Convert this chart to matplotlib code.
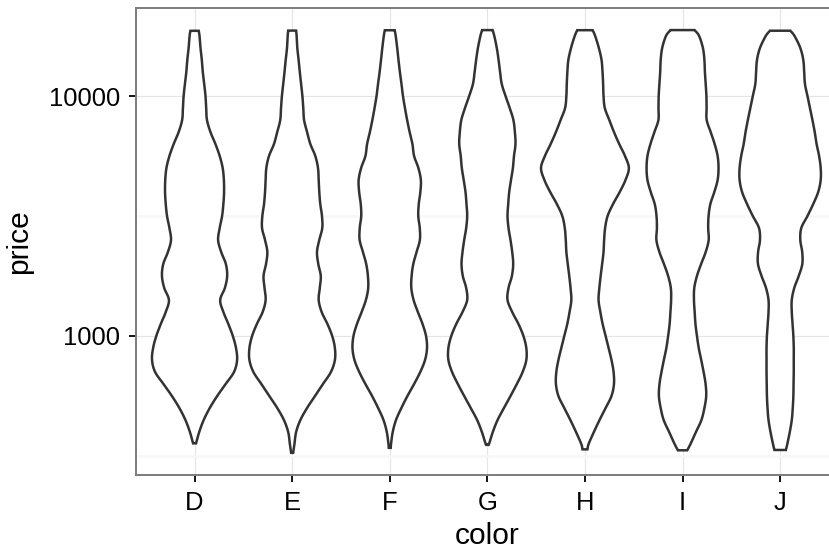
import numpy as np
import matplotlib
matplotlib.use("Agg")
import matplotlib.pyplot as plt
from matplotlib.ticker import FixedLocator, NullFormatter

# ---------------- data ----------------
colors = ["D", "E", "F", "G", "H", "I", "J"]

# log10(price) levels at which the violin widths were read
log_price_levels = [4.25, 4.20, 4.15, 4.10, 4.05, 4.00, 3.95, 3.90, 3.85, 3.80,
                    3.75, 3.70, 3.65, 3.60, 3.55, 3.50, 3.45, 3.40, 3.35, 3.30,
                    3.25, 3.20, 3.15, 3.10, 3.05, 3.00, 2.95, 2.90, 2.85, 2.80,
                    2.75, 2.70, 2.65, 2.60, 2.55]

price_max = [18693, 18731, 18791, 18818, 18803, 18823, 18710]
price_min = [357, 326, 342, 354, 337, 334, 335]

# relative density (violin half-width) at the max price and at the min price
width_top = [4.2, 4.0, 5.0, 5.3, 7.8, 12.2, 10.3]
width_bottom = [1.5, 1.0, 1.0, 1.0, 2.5, 4.7, 5.8]

density_D = [5.0, 6.0, 7.3, 8.3, 9.7, 11.0, 11.7, 12.5, 16.0, 21.0,
             25.3, 28.3, 29.5, 29.7, 29.0, 27.7, 25.3, 23.7, 26.8, 31.5,
             32.8, 30.5, 25.8, 29.0, 34.0, 38.5, 41.7, 42.8, 39.7, 31.3,
             22.8, 15.3, 9.2, 4.7, 0.0]
density_E = [4.5, 5.2, 6.5, 7.7, 9.0, 10.3, 11.2, 12.0, 15.0, 18.3,
             23.3, 26.0, 26.7, 27.3, 28.3, 30.0, 30.3, 27.3, 25.0, 26.3,
             28.8, 27.8, 26.7, 29.7, 35.5, 40.3, 43.0, 43.0, 39.0, 31.0,
             23.0, 15.0, 8.3, 4.0, 2.3]
density_F = [6.0, 7.5, 8.8, 10.2, 11.8, 13.3, 15.3, 17.5, 20.0, 22.8,
             24.5, 28.8, 31.3, 30.8, 29.2, 28.7, 30.2, 30.3, 27.0, 23.7,
             22.0, 21.7, 24.0, 28.3, 33.0, 36.5, 37.5, 35.5, 30.7, 24.5,
             17.8, 11.7, 6.3, 3.0, 1.3]
density_G = [7.0, 9.5, 11.3, 12.8, 14.5, 18.3, 22.5, 26.2, 27.7, 28.3,
             26.8, 25.7, 23.8, 22.0, 21.0, 20.3, 21.3, 23.3, 25.0, 26.0,
             24.7, 21.3, 20.3, 25.0, 31.3, 36.3, 39.2, 39.2, 35.5, 29.7,
             23.3, 16.7, 10.3, 5.5, 1.7]
density_H = [10.3, 14.0, 16.7, 17.7, 18.3, 18.7, 20.0, 24.5, 29.2, 34.5,
             40.3, 44.2, 40.8, 35.0, 28.3, 22.8, 20.3, 19.3, 18.7, 17.3,
             15.8, 14.5, 13.7, 15.5, 17.8, 20.8, 23.8, 26.7, 28.8, 29.2,
             26.7, 20.8, 14.7, 9.0, 3.7]
density_I = [16.7, 20.5, 22.0, 22.5, 23.3, 24.0, 24.2, 24.3, 28.3, 32.3,
             35.3, 36.2, 35.3, 32.0, 28.0, 26.2, 25.8, 26.3, 23.3, 18.7,
             14.5, 11.8, 11.5, 12.2, 13.0, 14.5, 16.3, 18.8, 21.2, 23.2,
             23.8, 22.0, 19.0, 13.5, 8.0]
density_J = [14.5, 20.3, 23.3, 24.2, 25.0, 27.5, 30.0, 32.5, 34.8, 36.7,
             39.2, 40.8, 40.8, 38.3, 33.3, 27.5, 21.3, 20.3, 22.2, 22.3,
             18.7, 14.2, 11.7, 11.7, 12.5, 13.3, 13.7, 13.7, 13.7, 13.5,
             13.3, 12.7, 11.7, 9.7, 7.2]

densities = [density_D, density_E, density_F, density_G,
             density_H, density_I, density_J]

y_major = [1000, 10000]
y_major_labels = ["1000", "10000"]

# ---------------- figure ----------------
W, H, DPI = 829, 552, 144
plt.rcParams["font.family"] = ["Liberation Sans", "DejaVu Sans"]
fig = plt.figure(figsize=(W / DPI, H / DPI), dpi=DPI)
fig.patch.set_facecolor("white")

left_px, right_px, top_px, bot_px = 136, 838.7, 8, 475
ax = fig.add_axes([left_px / W, 1 - bot_px / H,
                   (right_px - left_px) / W, (bot_px - top_px) / H])
ax.set_facecolor("white")


def catmull_rom(ys, ws, n=12):
    ys = np.asarray(ys, float)
    ws = np.asarray(ws, float)
    P = np.column_stack([ys, ws])
    P = np.vstack([2 * P[0] - P[1], P, 2 * P[-1] - P[-2]])
    out = []
    for i in range(1, len(P) - 2):
        p0, p1, p2, p3 = P[i - 1], P[i], P[i + 1], P[i + 2]
        t = np.linspace(0, 1, n, endpoint=False)[:, None]
        seg = 0.5 * ((2 * p1) + (-p0 + p2) * t +
                     (2 * p0 - 5 * p1 + 4 * p2 - p3) * t ** 2 +
                     (-p0 + 3 * p1 - 3 * p2 + p3) * t ** 3)
        out.append(seg)
    out.append(P[-2][None, :])
    out = np.vstack(out)
    return out[:, 0], np.clip(out[:, 1], 0, None)


all_max = max(max(d) for d in densities + [width_top])
scale = 0.45 / all_max

for i, (c, dens) in enumerate(zip(colors, densities)):
    pos = i + 1
    lmax = np.log10(price_max[i])
    lmin = np.log10(price_min[i])
    ys = [lmax]
    ws = [width_top[i]]
    for L, w in zip(log_price_levels, dens):
        if lmin < L < lmax:
            ys.append(L)
            ws.append(w)
    ys.append(lmin)
    ws.append(width_bottom[i])
    yy, ww = catmull_rom(ys, ws)
    hw = ww * scale
    xr = pos + hw
    xl = pos - hw
    xs = np.concatenate([xr, xl[::-1]])
    pr = 10 ** np.concatenate([yy, yy[::-1]])
    ax.fill(xs, pr, facecolor="white", edgecolor="#333333",
            linewidth=1.25, zorder=3, joinstyle="miter")

ax.set_yscale("log")
ax.set_xlim(0.4, 7.6)
ax.set_ylim(10 ** 2.4208, 10 ** 4.3667)

ax.set_xticks(range(1, len(colors) + 1))
ax.set_xticklabels(colors)
ax.yaxis.set_major_locator(FixedLocator(y_major))
ax.set_yticklabels(y_major_labels)
ax.yaxis.set_minor_locator(FixedLocator([10 ** 2.5, 10 ** 3.5, 10 ** 4.5]))
ax.yaxis.set_minor_formatter(NullFormatter())

ax.grid(True, which="major", color="#E5E5E5", linewidth=0.6, zorder=0)
ax.yaxis.grid(True, which="minor", color="#F7F7F7", linewidth=1.3, zorder=0)
ax.set_axisbelow(True)

for s in ax.spines.values():
    s.set_color("#7F7F7F")
    s.set_linewidth(1.0)

ax.tick_params(axis="both", which="major", length=3.5, width=1.0,
               color="#1a1a1a", labelsize=12.8, labelcolor="black", pad=4.5)
ax.tick_params(axis="y", which="minor", length=0)

ax.set_xlabel("color", fontsize=15, labelpad=3.5)
ax.set_ylabel("price", fontsize=15, labelpad=8)

fig.savefig("out.png", dpi=DPI, facecolor="white")
